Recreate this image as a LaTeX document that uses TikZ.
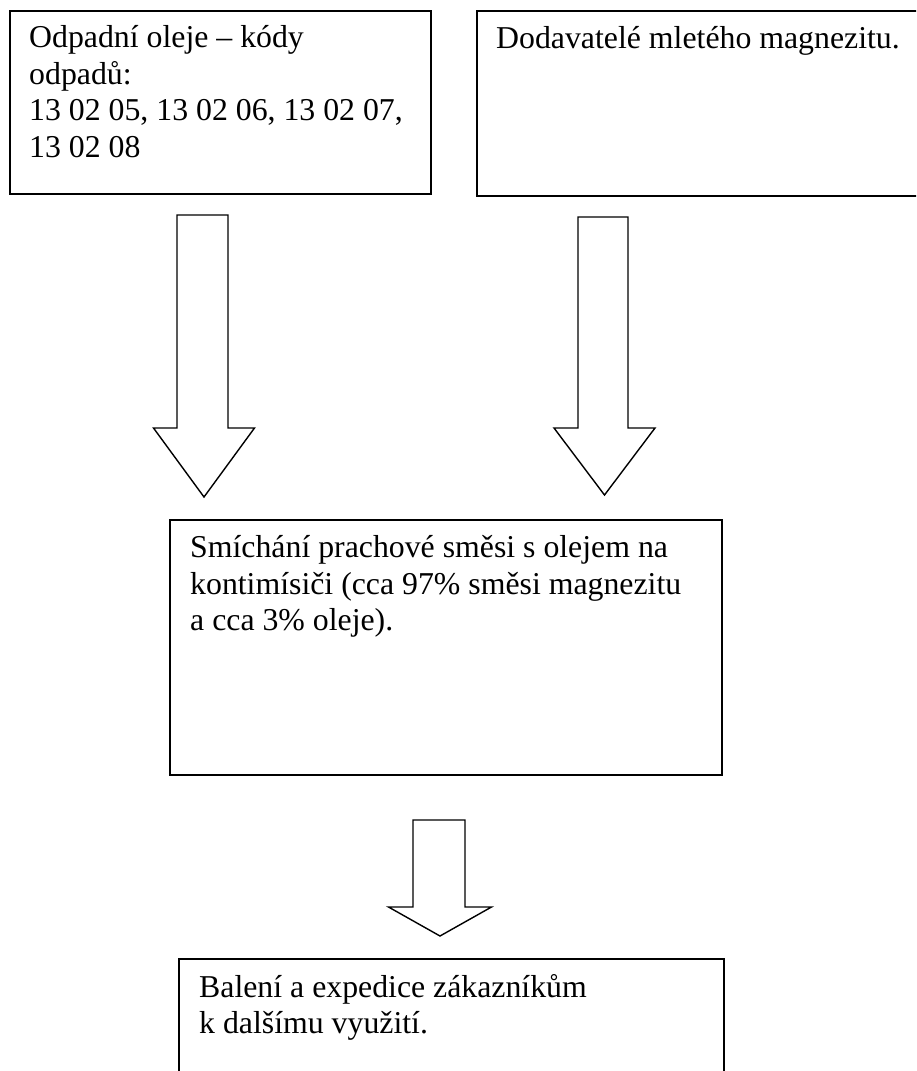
\documentclass[tikz,border=0pt]{standalone}
\usepackage{fontspec}
\setmainfont{Liberation Serif}
\usetikzlibrary{calc}
\begin{document}
\begin{tikzpicture}[x=1pt,y=-1pt,
  box/.style={draw, line width=1.5pt, inner sep=0pt, anchor=north west},
  lbl/.style={anchor=base west, inner sep=0pt, align=flush left, text width=560pt,
    font=\fontsize{31.8}{36.6}\selectfont},
  blockarrow/.style={draw, line width=1.4pt, fill=white, line join=miter}]
\useasboundingbox (0,0) rectangle (916,1071);
\clip (0,0) rectangle (916,1071);
\fill[white] (0,0) rectangle (916,1071);

% boxes
\node[box, minimum width=421pt, minimum height=183pt] (b1) at (9,10) {};
\node[box, minimum width=470pt, minimum height=185pt] (b2) at (476,10) {};
\node[box, minimum width=552pt, minimum height=255pt] (b3) at (169,519) {};
\node[box, minimum width=545pt, minimum height=150pt] (b4) at (178,958) {};

% texts
\node[lbl] (t1) at (29,47.5) {Odpadní oleje – kódy\\odpadů:\\13 02 05, 13 02 06, 13 02 07,\\13 02 08};
\node[lbl] (t2) at (496,48) {Dodavatelé mletého magnezitu.};
\node[lbl] (t3) at (190,557.5) {Smíchání prachové směsi s olejem na\\kontimísiči (cca 97\% směsi magnezitu\\a cca 3\% oleje).};
\node[lbl] (t4) at (199,997) {Balení a expedice zákazníkům\\k dalšímu využití.};

% block arrows
\coordinate (a1top) at (202.5,215);
\coordinate (a1tip) at (204,497);
\draw[blockarrow] ($(a1top)+(-25.5,0)$) -- ($(a1top |- 0,428)+(-25.5,0)$) -- ($(a1tip |- 0,428)+(-50.5,0)$)
  -- (a1tip) -- ($(a1tip |- 0,428)+(50.5,0)$) -- ($(a1top |- 0,428)+(25.5,0)$) -- ($(a1top)+(25.5,0)$) -- cycle;

\coordinate (a2top) at (603,217);
\coordinate (a2tip) at (604.5,495);
\draw[blockarrow] ($(a2top)+(-25,0)$) -- ($(a2top |- 0,428)+(-25,0)$) -- ($(a2tip |- 0,428)+(-50.5,0)$)
  -- (a2tip) -- ($(a2tip |- 0,428)+(50.5,0)$) -- ($(a2top |- 0,428)+(25,0)$) -- ($(a2top)+(25,0)$) -- cycle;

\coordinate (a3top) at (439,820);
\coordinate (a3tip) at (440,936);
\draw[blockarrow] ($(a3top)+(-26,0)$) -- ($(a3top |- 0,907)+(-26,0)$) -- ($(a3tip |- 0,907)+(-51.5,0)$)
  -- (a3tip) -- ($(a3tip |- 0,907)+(51.5,0)$) -- ($(a3top |- 0,907)+(26,0)$) -- ($(a3top)+(26,0)$) -- cycle;
\end{tikzpicture}
\end{document}
